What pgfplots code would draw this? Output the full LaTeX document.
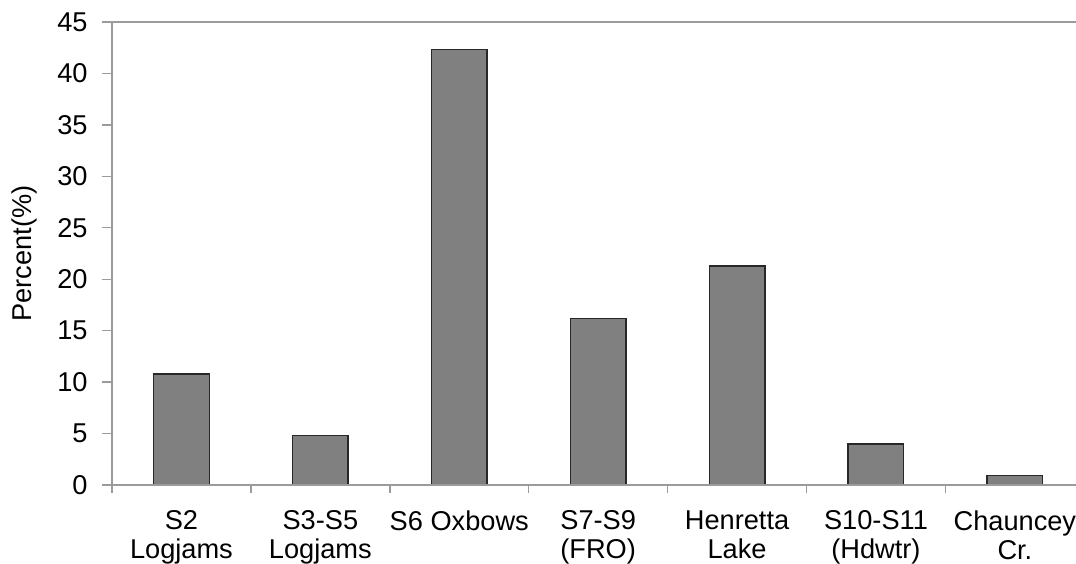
\documentclass[border=0pt]{standalone}
\usepackage{pgfplots}
\pgfplotsset{compat=1.18}
\usepackage{fontspec}
\setmainfont{Liberation Sans}
\definecolor{axisgray}{RGB}{155,155,155}
\definecolor{barfill}{RGB}{128,128,128}
\definecolor{baredge}{RGB}{40,40,40}
\begin{document}
\fontsize{13.6}{14.5}\selectfont
\begin{tikzpicture}
\begin{axis}[
  scale only axis,
  width=482pt, height=231.5pt,
  xmin=-0.5, xmax=6.44,
  ymin=0, ymax=45,
  ytick={0,5,...,45},
  xtick={0,...,6},
  xticklabels={{S2\\Logjams},{S3-S5\\Logjams},{S6 Oxbows},{S7-S9\\(FRO)},{Henretta\\Lake},{S10-S11\\(Hdwtr)},{Chauncey\\Cr.}},
  minor xtick={-0.5,0.5,...,5.5},
  xtick pos=bottom, ytick pos=left,
  tick align=outside,
  major tick length=5pt,
  minor tick length=4pt,
  major x tick style={draw=none},
  minor x tick style={draw=axisgray, line width=0.7pt},
  ytick style={draw=axisgray, line width=0.7pt},
  axis line style={draw=none},
  /pgf/number format/assume math mode=true,
  ticklabel style={font=\fontsize{13.6}{14.5}\selectfont},
  xticklabel style={align=center, yshift=-3pt},
  yticklabel style={xshift=-2.5pt},
  ylabel={Percent(\%)},
  ylabel style={at={([xshift=-44pt]rel axis cs:0,0.5)}, anchor=center, font=\fontsize{13.6}{14.5}\selectfont},
  ybar, bar width=0.4,
  clip=false,
]
\addplot[fill=barfill, draw=baredge, line width=0.7pt]
  coordinates {(0,10.8) (1,4.8) (2,42.3) (3,16.2) (4,21.3) (5,4.0) (6,0.9)};
\draw[axisgray, line width=0.7pt] (rel axis cs:1,1) -- (rel axis cs:0,1) -- (rel axis cs:0,0) -- (rel axis cs:1,0);
\end{axis}
\pgfresetboundingbox
\path[use as bounding box] ([xshift=-56pt,yshift=-39.5pt]current axis.south west) rectangle ([yshift=11pt]current axis.north east);
\end{tikzpicture}
\end{document}
